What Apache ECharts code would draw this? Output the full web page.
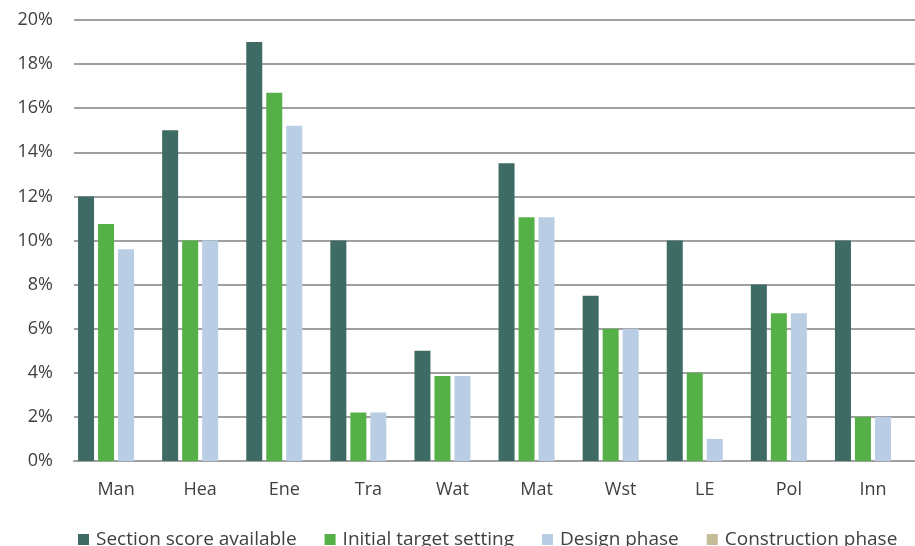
<!DOCTYPE html>
<html>
<head>
<meta charset="utf-8">
<script src="https://cdn.jsdelivr.net/npm/echarts@6/dist/echarts.min.js"></script>
<style>
  html, body { margin: 0; padding: 0; background: #ffffff; }
  #chart { width: 915px; height: 546px; }
</style>
</head>
<body>
<div id="chart"></div>
<script>
// Assessment sections
const categories = ['Man', 'Hea', 'Ene', 'Tra', 'Wat', 'Mat', 'Wst', 'LE', 'Pol', 'Inn'];

// Share of total score per section (%)
const sectionScore   = [12, 15, 19, 10, 5, 13.5, 7.5, 10, 8, 10];
const initialTarget  = [10.75, 10, 16.7, 2.2, 3.85, 11.05, 6, 4, 6.7, 2];
const designPhase    = [9.6, 10, 15.2, 2.2, 3.85, 11.05, 6, 1, 6.7, 2];
const constructPhase = [0, 0, 0, 0, 0, 0, 0, 0, 0, 0];

const yTicks = { min: 0, max: 20, interval: 2 };

const font = 'Open Sans';
const textColor = '#404040';

const chart = echarts.init(document.getElementById('chart'));

function bar(name, data, color) {
  return {
    name: name,
    type: 'bar',
    data: data,
    barWidth: 16,
    barGap: '25%',
    barCategoryGap: '12%',
    itemStyle: { color: color },
    emphasis: { disabled: true }
  };
}

chart.setOption({
  animation: false,
  textStyle: { fontFamily: font },
  grid: { left: 74, right: -18, top: 20, bottom: 85, containLabel: false },
  legend: {
    left: 73,
    top: 525,
    itemWidth: 11,
    itemHeight: 11,
    itemGap: 28,
    icon: 'rect',
    textStyle: { fontFamily: font, fontSize: 19, color: textColor, padding: [0, 0, 0, 2] },
    data: ['Section score available', 'Initial target setting', 'Design phase', 'Construction phase']
  },
  xAxis: {
    type: 'category',
    data: categories,
    axisLine: { lineStyle: { color: '#a0a0a0', width: 2 } },
    axisTick: { show: false },
    axisLabel: { fontFamily: font, fontSize: 18, color: textColor, margin: 20 }
  },
  yAxis: {
    type: 'value',
    min: yTicks.min,
    max: yTicks.max,
    interval: yTicks.interval,
    axisLine: { show: false },
    axisTick: { show: false },
    splitLine: { lineStyle: { color: '#a0a0a0', width: 2 } },
    axisLabel: {
      fontFamily: font, fontSize: 18, color: textColor, margin: 21,
      formatter: v => v + '%'
    }
  },
  series: [
    bar('Section score available', sectionScore, '#3e6b63'),
    bar('Initial target setting', initialTarget, '#55b047'),
    bar('Design phase', designPhase, '#b9cde5'),
    bar('Construction phase', constructPhase, '#c4bc96')
  ]
});
</script>
</body>
</html>
